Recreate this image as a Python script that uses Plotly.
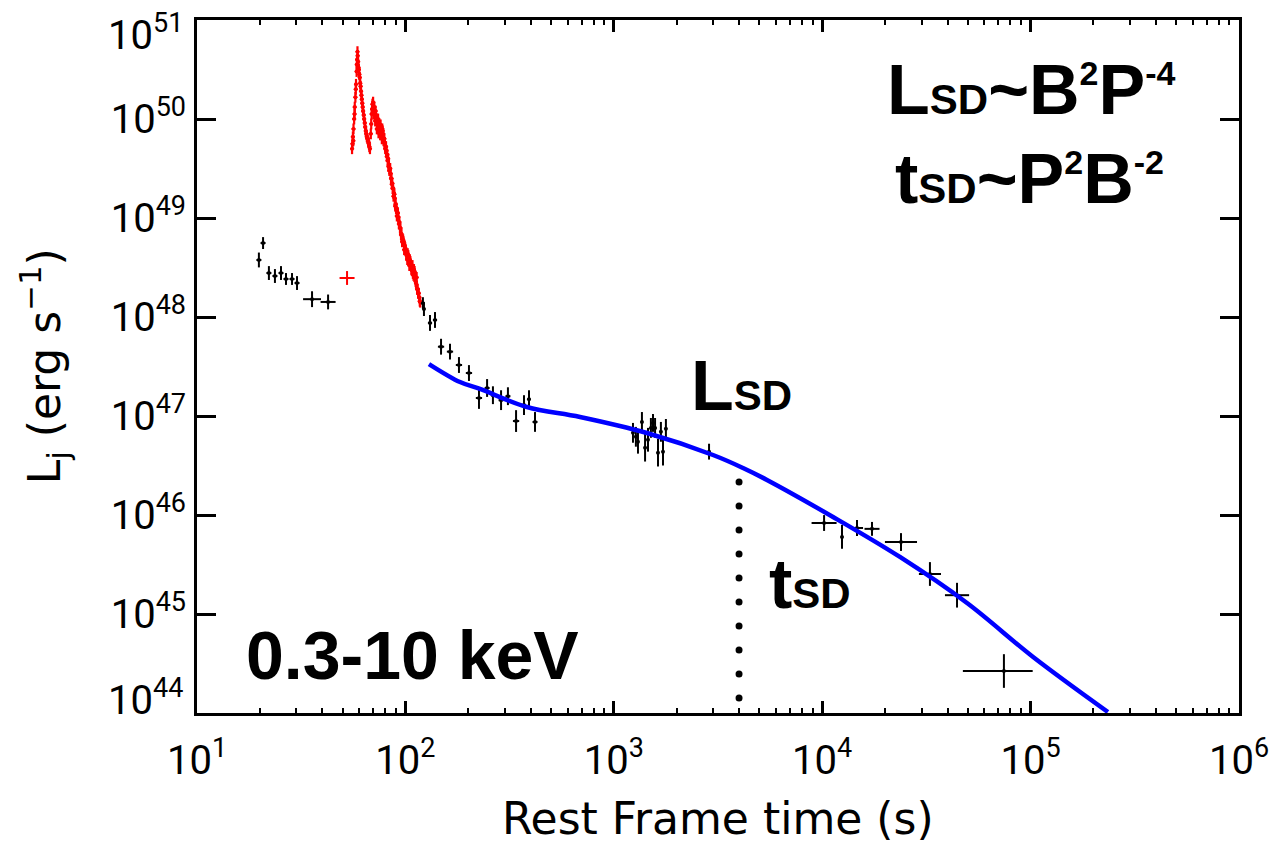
import numpy as np
import plotly.graph_objects as go

# ---------------- data (log10 of rest-frame time [s] and luminosity [erg/s]) ----------------
# red flare (early steep decay), main strand
flare_log_t = [1.744, 1.746, 1.748, 1.751, 1.754, 1.757, 1.760, 1.763, 1.766, 1.768, 1.770,
               1.773, 1.777, 1.781, 1.785, 1.789, 1.793, 1.797, 1.802, 1.807, 1.812,
               1.818, 1.824, 1.830, 1.836, 1.840, 1.845, 1.849, 1.853, 1.857, 1.861,
               1.865, 1.869, 1.873, 1.877, 1.881, 1.885, 1.889, 1.893, 1.897, 1.901,
               1.905, 1.909, 1.913, 1.917, 1.921, 1.925, 1.929, 1.933, 1.937, 1.941,
               1.945, 1.949, 1.953, 1.957, 1.961, 1.966, 1.971, 1.976, 1.981, 1.986,
               1.991, 1.996, 2.001, 2.006, 2.011, 2.016, 2.021, 2.026, 2.031, 2.036,
               2.041, 2.046, 2.051, 2.056, 2.061, 2.066, 2.071]
flare_log_L = [49.70, 49.75, 49.82, 49.90, 50.00, 50.12, 50.22, 50.35, 50.48, 50.60, 50.68,
               50.58, 50.50, 50.42, 50.33, 50.24, 50.16, 50.08, 50.00, 49.92, 49.85,
               49.80, 49.76, 49.70, 49.95, 50.10, 50.17, 50.10, 50.05, 50.08, 50.00,
               49.95, 50.00, 49.92, 49.90, 49.94, 49.87, 49.90, 49.85, 49.80, 49.76,
               49.72, 49.68, 49.64, 49.60, 49.54, 49.50, 49.45, 49.40, 49.35, 49.30,
               49.25, 49.20, 49.14, 49.10, 49.05, 49.01, 48.96, 48.90, 48.84, 48.78,
               48.76, 48.72, 48.68, 48.62, 48.64, 48.57, 48.58, 48.52, 48.47, 48.44,
               48.48, 48.40, 48.34, 48.28, 48.24, 48.20, 48.15]
# red flare, neighbouring points of the same band
flare_b_log_t = [1.750, 1.756, 1.762, 1.767, 1.771, 1.775, 1.779, 1.783, 1.787, 1.791,
                 1.795, 1.800, 1.805, 1.810, 1.815, 1.821, 1.827,
                 1.834, 1.838, 1.842, 1.847, 1.851, 1.855, 1.859, 1.863, 1.867, 1.871,
                 1.875, 1.879, 1.883, 1.887, 1.891, 1.895, 1.899, 1.903, 1.907, 1.911,
                 1.915, 1.919, 1.923, 1.927, 1.931, 1.935, 1.939, 1.943, 1.947, 1.951,
                 1.955, 1.959, 1.964, 1.969, 1.974, 1.979, 1.984, 1.989, 1.994, 1.999,
                 2.004, 2.009, 2.014, 2.019, 2.024, 2.029, 2.034, 2.039, 2.044, 2.049,
                 2.054, 2.059, 2.064, 2.069]
flare_b_log_L = [49.78, 50.05, 50.30, 50.55, 50.64, 50.52, 50.45, 50.36, 50.28, 50.20,
                 50.12, 50.04, 49.96, 49.88, 49.82, 49.78, 49.72,
                 49.85, 50.05, 50.15, 50.05, 50.12, 49.98, 50.04, 49.90, 49.96, 49.86,
                 49.95, 49.84, 49.90, 49.80, 49.88, 49.78, 49.80, 49.70, 49.72, 49.62,
                 49.58, 49.52, 49.48, 49.50, 49.40, 49.34, 49.30, 49.22, 49.24, 49.12,
                 49.10, 49.02, 49.05, 48.94, 48.90, 48.83, 48.76, 48.78, 48.68, 48.70,
                 48.64, 48.58, 48.62, 48.52, 48.56, 48.48, 48.52, 48.42, 48.46, 48.36,
                 48.40, 48.28, 48.24, 48.16]

# isolated red point
red_pt_log_t = [1.720]
red_pt_log_L = [48.394]
red_pt_xerr = [0.036]
red_pt_yerr = [0.07]

# black data points
pts_log_t = [1.297, 1.317, 1.345, 1.374, 1.403, 1.427, 1.456, 1.480, 1.552, 1.629,
             2.084, 2.089, 2.118, 2.142, 2.171, 2.214, 2.257, 2.305, 2.353, 2.392,
             2.420, 2.459, 2.492, 2.531, 2.569, 2.593, 2.622,
             3.092, 3.106, 3.116, 3.135, 3.150, 3.164, 3.178, 3.188, 3.198, 3.212,
             3.226, 3.236, 3.250, 3.457,
             4.009, 4.095, 4.167, 4.239, 4.378, 4.517, 4.647, 4.872]
pts_log_L = [48.576, 48.747, 48.444, 48.414, 48.444, 48.384, 48.384, 48.343, 48.180, 48.152,
             48.14, 48.08, 47.94, 47.97, 47.70, 47.65, 47.515, 47.434, 47.182, 47.283,
             47.21, 47.16, 47.20, 46.949, 47.11, 47.17, 46.94,
             46.83, 46.79, 46.74, 46.94, 46.68, 46.76, 46.88, 46.93, 46.88, 46.63,
             46.84, 46.64, 46.87, 46.64,
             45.919, 45.778, 45.869, 45.86, 45.727, 45.404, 45.19, 44.424]
pts_xerr_lo = [0.012] * 8 + [0.043, 0.036] + \
              [0.006, 0.006, 0.010, 0.010, 0.015, 0.015, 0.015, 0.015, 0.015, 0.012,
               0.010, 0.012, 0.012, 0.015, 0.008, 0.008, 0.012] + \
              [0.004] * 13 + [0.005] + \
              [0.060, 0.003, 0.029, 0.036, 0.077, 0.053, 0.058, 0.197]
pts_xerr_hi = [0.012] * 8 + [0.043, 0.036] + \
              [0.006, 0.006, 0.010, 0.010, 0.015, 0.015, 0.015, 0.015, 0.015, 0.012,
               0.010, 0.012, 0.012, 0.015, 0.008, 0.008, 0.012] + \
              [0.004] * 13 + [0.005] + \
              [0.060, 0.003, 0.029, 0.036, 0.077, 0.053, 0.058, 0.138]
pts_yerr = [0.075, 0.06, 0.07, 0.07, 0.07, 0.06, 0.06, 0.07, 0.08, 0.075,
            0.06, 0.07, 0.08, 0.08, 0.08, 0.08, 0.08, 0.08, 0.11, 0.09,
            0.09, 0.10, 0.09, 0.11, 0.10, 0.09, 0.10,
            0.10, 0.10, 0.12, 0.10, 0.14, 0.12, 0.10, 0.09, 0.10, 0.14,
            0.10, 0.14, 0.10, 0.08,
            0.08, 0.12, 0.08, 0.07, 0.09, 0.12, 0.125, 0.17]

# magnetar spin-down model curve
model_log_t = [2.113, 2.262, 2.358, 2.583, 2.838, 3.159, 3.476, 3.620, 3.735,
               4.052, 4.373, 4.695, 5.012, 5.371]
model_log_L = [47.525, 47.343, 47.273, 47.091, 46.990, 46.828, 46.606, 46.475, 46.354,
               45.980, 45.576, 45.111, 44.566, 44.010]

# spin-down time marker
t_sd_log = 3.601
t_sd_dots_log_L = (44.152, 46.333)

# axis ticks
x_tick_exp = [1, 2, 3, 4, 5, 6]
y_tick_exp = [44, 45, 46, 47, 48, 49, 50, 51]


def sym_err(logv, dex):
    v = 10.0 ** np.asarray(logv, float)
    d = np.asarray(dex, float)
    return v * (10 ** d - 1), v * (1 - 10 ** (-d))


def asym_err(logv, lo, hi):
    v = 10.0 ** np.asarray(logv, float)
    return v * (10 ** np.asarray(hi, float) - 1), v * (1 - 10 ** (-np.asarray(lo, float)))


fig = go.Figure()

# red flare
all_flare_t = flare_log_t + flare_b_log_t
all_flare_L = flare_log_L + flare_b_log_L
fy_p, fy_m = sym_err(all_flare_L, [0.055] * len(all_flare_L))
fx_p, fx_m = sym_err(all_flare_t, [0.010] * len(all_flare_t))
fig.add_trace(go.Scatter(
    x=10.0 ** np.array(all_flare_t), y=10.0 ** np.array(all_flare_L), mode='markers',
    marker=dict(color='#ff0000', size=4),
    error_y=dict(type='data', symmetric=False, array=fy_p, arrayminus=fy_m,
                 color='#ff0000', thickness=2.2, width=0),
    error_x=dict(type='data', symmetric=False, array=fx_p, arrayminus=fx_m,
                 color='#ff0000', thickness=1.5, width=0),
))

# red isolated point
ry_p, ry_m = sym_err(red_pt_log_L, red_pt_yerr)
rx_p, rx_m = sym_err(red_pt_log_t, red_pt_xerr)
fig.add_trace(go.Scatter(
    x=10.0 ** np.array(red_pt_log_t), y=10.0 ** np.array(red_pt_log_L), mode='markers',
    marker=dict(color='#ff0000', size=1),
    error_y=dict(type='data', symmetric=False, array=ry_p, arrayminus=ry_m,
                 color='#ff0000', thickness=2, width=0),
    error_x=dict(type='data', symmetric=False, array=rx_p, arrayminus=rx_m,
                 color='#ff0000', thickness=2, width=0),
))

# black points
py_p, py_m = sym_err(pts_log_L, pts_yerr)
px_p, px_m = asym_err(pts_log_t, pts_xerr_lo, pts_xerr_hi)
fig.add_trace(go.Scatter(
    x=10.0 ** np.array(pts_log_t), y=10.0 ** np.array(pts_log_L), mode='markers',
    marker=dict(color='black', size=4),
    error_y=dict(type='data', symmetric=False, array=py_p, arrayminus=py_m,
                 color='black', thickness=2, width=0),
    error_x=dict(type='data', symmetric=False, array=px_p, arrayminus=px_m,
                 color='black', thickness=2, width=0),
))

# model curve
fig.add_trace(go.Scatter(
    x=10.0 ** np.array(model_log_t), y=10.0 ** np.array(model_log_L), mode='lines',
    line=dict(color='#0000ff', width=4.5, shape='spline', smoothing=1.0),
))

# dotted t_SD marker
dots_L = np.logspace(t_sd_dots_log_L[0], t_sd_dots_log_L[1], 10)
fig.add_trace(go.Scatter(
    x=[10.0 ** t_sd_log] * len(dots_L), y=dots_L, mode='markers',
    marker=dict(color='black', size=7),
))

tickfont = dict(family='Roboto', size=40, color='black')
x_minor = [float(m) * 10.0 ** e for e in range(1, 6) for m in range(2, 10)]


def pow_label(e, sup_px=27):
    return f"10<sup><span style='font-size:{sup_px}px'>{e}</span></sup>"


fig.update_xaxes(
    type='log', range=[1, 6],
    tickmode='array', tickvals=[10.0 ** e for e in x_tick_exp],
    ticktext=[pow_label(e) for e in x_tick_exp],
    ticks='inside', ticklen=12, tickwidth=2.5, tickcolor='black',
    showline=True, linewidth=3, linecolor='black', mirror='ticks',
    showgrid=False, zeroline=False, tickfont=tickfont, ticklabelstandoff=10,
    minor=dict(ticks='inside', ticklen=5, tickwidth=2, tickcolor='black',
               tickmode='array', tickvals=x_minor, showgrid=False),
)
fig.update_yaxes(
    type='log', range=[44, 51],
    tickmode='array', tickvals=[10.0 ** e for e in y_tick_exp],
    ticktext=['' if e in (44, 51) else pow_label(e) for e in y_tick_exp],
    ticks='inside', ticklen=19, tickwidth=3, tickcolor='black',
    showline=True, linewidth=3, linecolor='black', mirror='ticks',
    showgrid=False, zeroline=False, tickfont=tickfont,
)

ann = []
# end labels of y axis (nudged inward as in the original)
for e, shift in ((51, -13), (44, 15)):
    ann.append(dict(xref='paper', yref='y', x=0, y=e, xanchor='right', yanchor='middle',
                    xshift=-12, yshift=shift, showarrow=False,
                    text=pow_label(e), font=tickfont))

# axis titles
title_font = dict(family='DejaVu Sans', size=44, color='black')
ann.append(dict(xref='paper', yref='paper', x=0.5, y=-0.152, xanchor='center', yanchor='middle',
                showarrow=False, text='Rest Frame time (s)', font=title_font))
ann.append(dict(xref='paper', yref='paper', x=-0.147, y=0.5, xanchor='center', yanchor='middle',
                showarrow=False, textangle=-90, text='L<sub>j</sub> (erg s<sup>\u22121</sup>)',
                font=title_font))

big = dict(family='Liberation Sans, Arial, sans-serif', size=70, color='black')
sd = "<span style='font-size:42px'>SD</span>"


def sp(t):
    return f"<sup><span style='font-size:34px'>{t}</span></sup>"


ann.append(dict(xref='paper', yref='paper', x=(1031 - 197) / 1042, y=1 - (90 - 20) / 693,
                xanchor='center', yanchor='middle', showarrow=False, font=big,
                text=f'<b>L{sd}~B{sp("2")}P{sp("-4")}</b>'))
ann.append(dict(xref='paper', yref='paper', x=(1029 - 197) / 1042, y=1 - (179 - 20) / 693,
                xanchor='center', yanchor='middle', showarrow=False, font=big,
                text=f'<b>t{sd}~P{sp("2")}B{sp("-2")}</b>'))
ann.append(dict(xref='paper', yref='paper', x=(741 - 197) / 1042, y=1 - (386 - 20) / 693,
                xanchor='center', yanchor='middle', showarrow=False, font=big,
                text=f'<b>L{sd}</b>'))
ann.append(dict(xref='paper', yref='paper', x=(810 - 197) / 1042, y=1 - (584 - 20) / 693,
                xanchor='center', yanchor='middle', showarrow=False, font=big,
                text=f'<b>t{sd}</b>'))
ann.append(dict(xref='paper', yref='paper', x=(412 - 197) / 1042, y=1 - (655 - 20) / 693,
                xanchor='center', yanchor='middle', showarrow=False,
                font=dict(family='Liberation Sans, Arial, sans-serif', size=68, color='black'),
                text='<b>0.3-10 keV</b>'))

fig.update_layout(
    width=1280, height=843,
    margin=dict(l=197, r=41, t=20, b=130),
    plot_bgcolor='white', paper_bgcolor='white',
    showlegend=False, annotations=ann,
)

fig.write_html('out.html')
